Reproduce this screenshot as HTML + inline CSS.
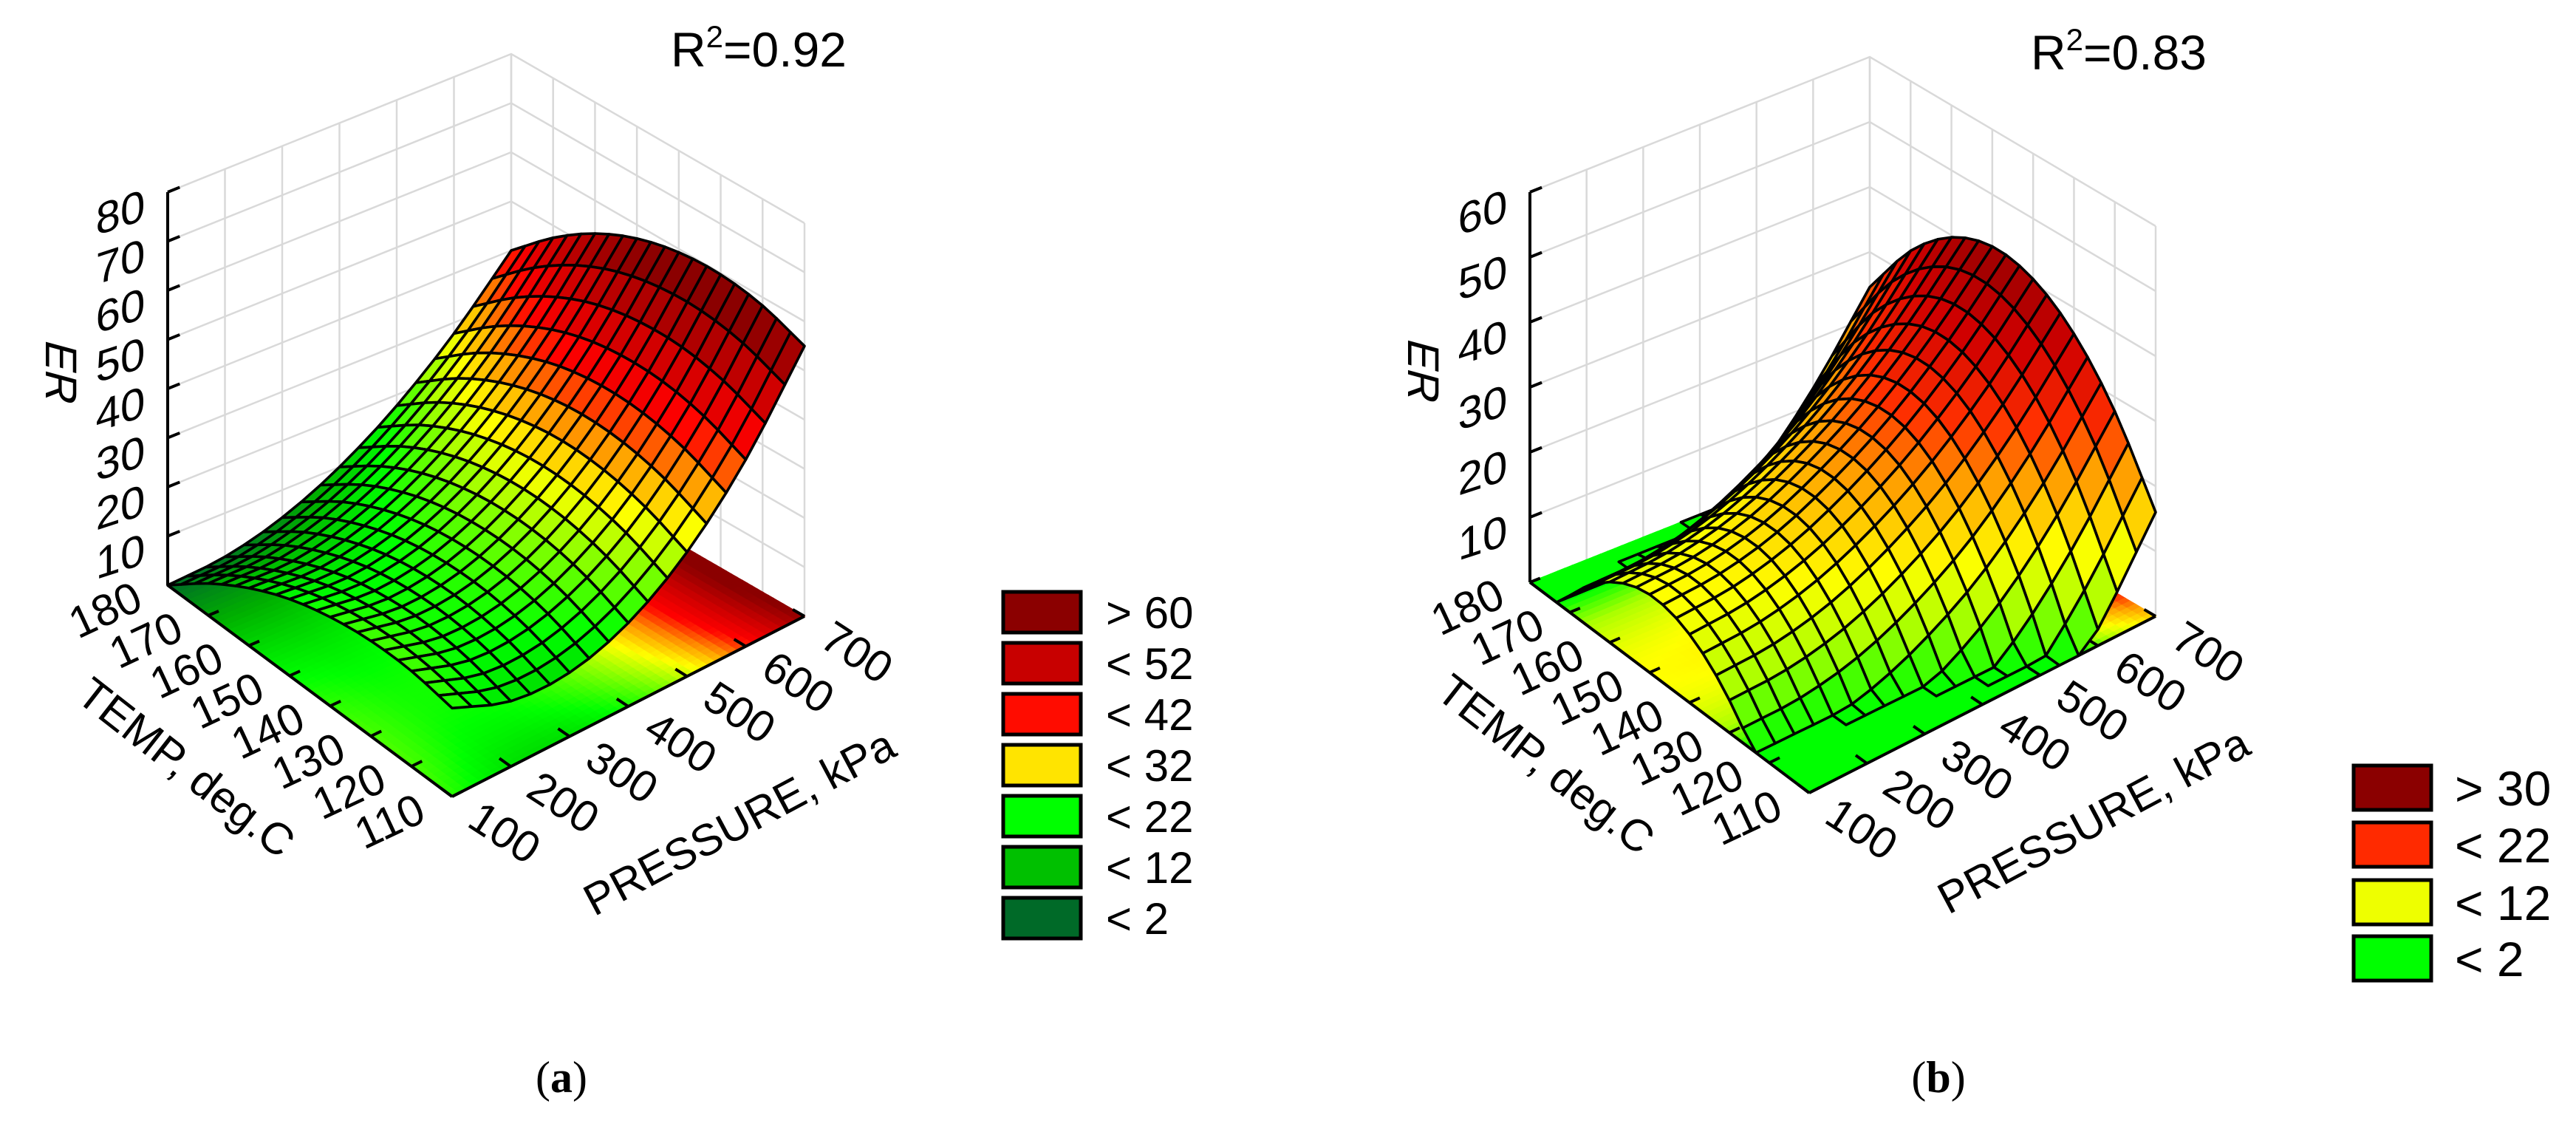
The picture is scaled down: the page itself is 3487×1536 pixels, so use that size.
<!DOCTYPE html>
<html><head><meta charset="utf-8"><style>
html,body{margin:0;padding:0;background:#fff;}
svg{display:block;font-family:"Liberation Sans",Arial,sans-serif;}
</style></head><body>
<svg id="fig" width="3487" height="1536" viewBox="0 0 3487 1536" xmlns="http://www.w3.org/2000/svg">
<rect width="3487" height="1536" fill="#fff"/>
<g id="chartA"></g>
<g id="chartB"></g>
<text x="1027" y="90" font-size="66" text-anchor="middle">R<tspan dy="-26" font-size="42">2</tspan><tspan dy="26">=0.92</tspan></text>
<text x="2868" y="94" font-size="66" text-anchor="middle">R<tspan dy="-26" font-size="42">2</tspan><tspan dy="26">=0.83</tspan></text>
<text x="760" y="1478" font-size="60" text-anchor="middle" font-family="Liberation Serif,serif">(<tspan font-weight="bold">a</tspan>)</text>
<text x="2624" y="1478" font-size="60" text-anchor="middle" font-family="Liberation Serif,serif">(<tspan font-weight="bold">b</tspan>)</text>
<g>
<rect x="1358" y="801" width="105" height="55" fill="#8b0000" stroke="#000" stroke-width="5"/>
<text x="1497" y="850" font-size="60">&gt; 60</text>
<rect x="1358" y="870" width="105" height="55" fill="#c80000" stroke="#000" stroke-width="5"/>
<text x="1497" y="919" font-size="60">&lt; 52</text>
<rect x="1358" y="939" width="105" height="55" fill="#ff0c00" stroke="#000" stroke-width="5"/>
<text x="1497" y="988" font-size="60">&lt; 42</text>
<rect x="1358" y="1008" width="105" height="55" fill="#ffe400" stroke="#000" stroke-width="5"/>
<text x="1497" y="1057" font-size="60">&lt; 32</text>
<rect x="1358" y="1077" width="105" height="55" fill="#00ff00" stroke="#000" stroke-width="5"/>
<text x="1497" y="1126" font-size="60">&lt; 22</text>
<rect x="1358" y="1146" width="105" height="55" fill="#00c000" stroke="#000" stroke-width="5"/>
<text x="1497" y="1195" font-size="60">&lt; 12</text>
<rect x="1358" y="1215" width="105" height="55" fill="#006a28" stroke="#000" stroke-width="5"/>
<text x="1497" y="1264" font-size="60">&lt; 2</text>
</g>
<g>
<rect x="3186" y="1036" width="105" height="60" fill="#8b0000" stroke="#000" stroke-width="5"/>
<text x="3323" y="1090" font-size="66">&gt; 30</text>
<rect x="3186" y="1113" width="105" height="60" fill="#ff2a00" stroke="#000" stroke-width="5"/>
<text x="3323" y="1167" font-size="66">&lt; 22</text>
<rect x="3186" y="1191" width="105" height="60" fill="#eeff00" stroke="#000" stroke-width="5"/>
<text x="3323" y="1245" font-size="66">&lt; 12</text>
<rect x="3186" y="1267" width="105" height="60" fill="#00ff00" stroke="#000" stroke-width="5"/>
<text x="3323" y="1321" font-size="66">&lt; 2</text>
</g>
</svg>
<script>
// ---- data ----
const pTicks = [100, 200, 300, 400, 500, 600, 700];
const tTicks = [180, 170, 160, 150, 140, 130, 120, 110];
const zTicksA = [10, 20, 30, 40, 50, 60, 70, 80];
const zTicksB = [10, 20, 30, 40, 50, 60];
// ER values, rows = TEMP (180..110), cols = PRESSURE (100..700)
const erA = [
  [0, 1.1, 4.4, 10, 17.8, 27.8, 40],
  [6.5, 7.0, 10.1, 15.7, 23.8, 34.4, 47.5],
  [11.7, 11.5, 14.2, 19.8, 28.1, 39.3, 53.3],
  [15.6, 14.7, 16.9, 22.3, 30.8, 42.5, 57.2],
  [18.1, 16.4, 18.1, 23.3, 31.9, 43.9, 59.3],
  [19.4, 16.8, 17.9, 22.8, 31.3, 43.7, 59.7],
  [19.4, 15.7, 16.2, 20.7, 29.1, 41.7, 58.3],
  [18, 13.3, 13, 17, 25.3, 38, 55]
];
const erB = [
  [-8.3, -8.5, -7.0, -3.2, 3.0, 12.5, 24.6],
  [2.6, 2.9, 4.9, 8.9, 14.9, 23.4, 33.9],
  [9.3, 10.0, 12.3, 16.5, 22.3, 30.1, 39.7],
  [12.0, 12.8, 15.2, 19.5, 25.2, 32.8, 42.0],
  [10.5, 11.3, 13.7, 17.9, 23.7, 31.3, 40.7],
  [5.0, 5.5, 7.6, 11.7, 17.6, 25.8, 36.0],
  [-4.6, -4.6, -2.9, 1.0, 7.1, 16.2, 27.8],
  [-18.3, -19, -18, -14.4, -8, 2.5, 16.0]
];
const stopsA = [[0,'#006a28'],[8,'#00b000'],[16,'#00ff00'],[22,'#80ff00'],[28,'#ffff00'],[34,'#ff9000'],[40,'#ff0000'],[48,'#c80000'],[56,'#8b0000']];
const stopsB = [[0,'#00ff00'],[6,'#aaff00'],[12,'#ffff00'],[20,'#ffa000'],[26,'#ff3000'],[34,'#d00000'],[44,'#8b0000']];

const NS = 'http://www.w3.org/2000/svg';
function mk(parent, tag, attrs, text){
  const e = document.createElementNS(NS, tag);
  for (const k in attrs) e.setAttribute(k, attrs[k]);
  if (text !== undefined) e.textContent = text;
  parent.appendChild(e); return e;
}
function hex(c){return [parseInt(c.slice(1,3),16),parseInt(c.slice(3,5),16),parseInt(c.slice(5,7),16)];}
function colorFor(stops, z){
  if (z <= stops[0][0]) return stops[0][1];
  for (let i=1;i<stops.length;i++){
    if (z <= stops[i][0]){
      const t=(z-stops[i-1][0])/(stops[i][0]-stops[i-1][0]);
      const a=hex(stops[i-1][1]), b=hex(stops[i][1]);
      return 'rgb('+a.map((x,j)=>Math.round(x+(b[j]-x)*t)).join(',')+')';
    }
  }
  return stops[stops.length-1][1];
}
function cr(p0,p1,p2,p3,t){
  return 0.5*((2*p1)+(-p0+p2)*t+(2*p0-5*p1+4*p2-p3)*t*t+(-p0+3*p1-3*p2+p3)*t*t*t);
}
function gridAt(g, r, c){
  const R=g.length-1, C=g[0].length-1;
  function at(i,j){
    if (i<0) return 2*at(0,j)-at(1,j);
    if (i>R) return 2*at(R,j)-at(R-1,j);
    if (j<0) return 2*at(i,0)-at(i,1);
    if (j>C) return 2*at(i,C)-at(i,C-1);
    return g[i][j];
  }
  const i=Math.min(Math.floor(r),R-1), j=Math.min(Math.floor(c),C-1);
  const tr=r-i, tc=c-j;
  const rows=[];
  for (let di=-1;di<=2;di++){
    rows.push(cr(at(i+di,j-1),at(i+di,j),at(i+di,j+1),at(i+di,j+2),tc));
  }
  return cr(rows[0],rows[1],rows[2],rows[3],tr);
}

function drawChart(gid, cfg){
  const g = document.getElementById(gid);
  const {L,F,R,B,k,zTicks,data,stops,clip} = cfg;
  const zMax = zTicks[zTicks.length-1];
  const uOf = p => (p - pTicks[0])/(pTicks[pTicks.length-1]-pTicks[0]);
  const vOf = t => (tTicks[0]-t)/(tTicks[0]-tTicks[tTicks.length-1]);
  function proj(u,v,z){
    const x = L[0]*(1-u)*(1-v)+B[0]*u*(1-v)+F[0]*(1-u)*v+R[0]*u*v;
    const y = L[1]*(1-u)*(1-v)+B[1]*u*(1-v)+F[1]*(1-u)*v+R[1]*u*v;
    return [x, y - z*k];
  }
  const pt = a => a[0].toFixed(1)+','+a[1].toFixed(1);
  const walls = mk(g,'g',{});
  
  
  const wallStyle = {stroke:'#d9d9d9','stroke-width':2.5,fill:'none'};
  pTicks.forEach(p=>{
    const u=uOf(p);
    const ln = mk(walls,'line',Object.assign({x1:proj(u,0,0)[0],y1:proj(u,0,0)[1],x2:proj(u,0,zMax)[0],y2:proj(u,0,zMax)[1]},wallStyle));
    
    
  });
  tTicks.forEach(t=>{
    const v=vOf(t);
    const ln = mk(walls,'line',Object.assign({x1:proj(1,v,0)[0],y1:proj(1,v,0)[1],x2:proj(1,v,zMax)[0],y2:proj(1,v,zMax)[1]},wallStyle));
    
    
  });
  zTicks.forEach(z=>{
    const a=proj(0,0,z), b=proj(1,0,z), c=proj(1,1,z);
    const pl = mk(walls,'polyline',Object.assign({points:pt(a)+' '+pt(b)+' '+pt(c)},wallStyle));
    
    
  });
  const SUB=3;
  const NU=(pTicks.length-1)*SUB, NV=(tTicks.length-1)*SUB;
  const raw=[];
  for (let iv=0;iv<=NV;iv++){ raw.push([]); for (let iu=0;iu<=NU;iu++){
    raw[iv].push(gridAt(data, iv/NV*(tTicks.length-1), iu/NU*(pTicks.length-1)));
  }}
  // floor (finer)
  const FS=8, FU=(pTicks.length-1)*FS, FV=(tTicks.length-1)*FS;
  const floor = mk(g,'g',{});
  
  
  for (let iv=0;iv<FV;iv++) for (let iu=0;iu<FU;iu++){
    const zz=gridAt(data,(iv+0.5)/FV*(tTicks.length-1),(iu+0.5)/FU*(pTicks.length-1));
    const col=colorFor(stops, Math.max(0,zz));
    const poly=[proj(iu/FU,iv/FV,0),proj((iu+1)/FU,iv/FV,0),proj((iu+1)/FU,(iv+1)/FV,0),proj(iu/FU,(iv+1)/FV,0)];
    const q = mk(floor,'polygon',{points:poly.map(pt).join(' '),fill:col,stroke:col,'stroke-width':1.5});
    
    
  }
  const axes = mk(g,'g',{stroke:'#000','stroke-width':4,fill:'none'});
  
  
  const za=proj(0,0,0), zb=proj(0,0,zMax);
  const zAx = mk(axes,'line',{x1:za[0],y1:za[1],x2:zb[0],y2:zb[1]});
  
  
  const tAx = mk(axes,'line',{x1:L[0],y1:L[1],x2:F[0],y2:F[1]});
  
  
  const pAx = mk(axes,'line',{x1:F[0],y1:F[1],x2:R[0],y2:R[1]});
  
  
  const labels = mk(g,'g',{'font-size':60,fill:'#000'});
  
  
  zTicks.forEach(z=>{
    const a=proj(0,0,z), b=proj(0.035,0,z);
    const tk = mk(axes,'line',{x1:a[0],y1:a[1],x2:b[0],y2:b[1]});
    
    
    const tx = mk(labels,'text',{x:0,y:0,'text-anchor':'middle',transform:'translate('+(a[0]-64)+','+(a[1]+48)+') skewY(-18)'}, String(z));
    
    
  });
  tTicks.forEach(t=>{
    const v=vOf(t); const a=proj(0,v,0), b=proj(0.03,v,0);
    const tk = mk(axes,'line',{x1:a[0],y1:a[1],x2:b[0],y2:b[1]});
    
    
    const tx = mk(labels,'text',{x:0,y:0,'text-anchor':'middle',transform:'translate('+(a[0]-76)+','+(a[1]+52)+') rotate(-25)'}, String(t));
    
    
  });
  pTicks.forEach(p=>{
    const u=uOf(p); const a=proj(u,1,0), b=proj(u,0.96,0);
    const tk = mk(axes,'line',{x1:a[0],y1:a[1],x2:b[0],y2:b[1]});
    
    
    const tx = mk(labels,'text',{x:0,y:0,'text-anchor':'middle',transform:'translate('+(a[0]+60)+','+(a[1]+66)+') rotate(33)'}, String(p));
    
    
  });
  const mid=(a,b)=>[(a[0]+b[0])/2,(a[1]+b[1])/2];
  const zm=proj(0,0,zMax*0.55);
  const erT = mk(labels,'text',{x:0,y:0,'text-anchor':'middle',transform:'translate('+(zm[0]-165)+','+(zm[1])+') rotate(90) skewX(-15)','font-size':60}, 'ER');
  
  
  const tm=mid(L,F);
  const tT = mk(labels,'text',{x:0,y:0,'text-anchor':'middle',transform:'translate('+(tm[0]-180)+','+(tm[1]+120)+') rotate(38)','font-size':60}, 'TEMP, deg.C');
  
  
  const pm=mid(F,R);
  const pT = mk(labels,'text',{x:0,y:0,'text-anchor':'middle',transform:'translate('+(pm[0]+160)+','+(pm[1]+175)+') rotate(-28)','font-size':60}, 'PRESSURE, kPa');
  
  
  const surf = mk(g,'g',{stroke:'#000','stroke-width':3.6,'stroke-linejoin':'round'});
  
  
  const quads=[];
  for (let iv=0;iv<NV;iv++) for (let iu=0;iu<NU;iu++){
    const c=[[iu,iv],[iu+1,iv],[iu+1,iv+1],[iu,iv+1]];
    const zs=c.map(([a,b])=>raw[b][a]);
    if (clip && zs.every(z=>z<=0)) continue;
    quads.push({c, zs:zs.map(z=>clip?Math.max(0,z):z), key:(iu+0.5)/NU + 1 - (iv+0.5)/NV});
  }
  quads.sort((a,b)=>b.key-a.key);
  quads.forEach(q=>{
    const poly=q.c.map(([a,b],i)=>proj(a/NU,b/NV,q.zs[i]));
    const zz=q.zs.reduce((s,x)=>s+x,0)/4;
    const el = mk(surf,'polygon',{points:poly.map(pt).join(' '),fill:colorFor(stops,zz)});
    
    
  });
}
drawChart('chartA',{L:[227,792],F:[612,1078],R:[1089,834],B:[692,605],k:6.65,zTicks:zTicksA,data:erA,stops:stopsA,clip:false});
drawChart('chartB',{L:[2071,788],F:[2449,1073],R:[2918,834],B:[2531,605],k:8.8,zTicks:zTicksB,data:erB,stops:stopsB,clip:true});
</script>
</body></html>
